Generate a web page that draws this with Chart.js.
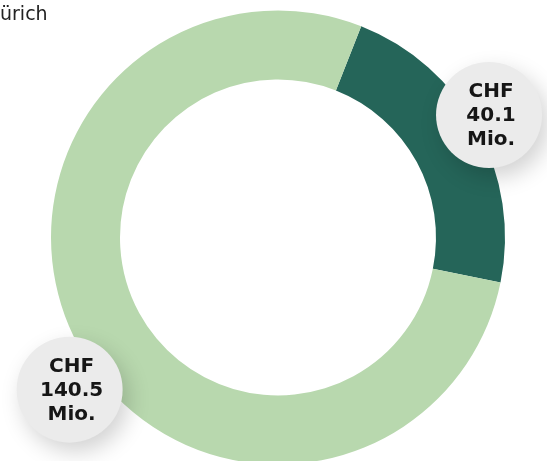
<!DOCTYPE html>
<html>
<head>
<meta charset="utf-8">
<script src="https://cdn.jsdelivr.net/npm/chart.js@4"></script>
<style>
	html, body { margin: 0; padding: 0; background: #fff; overflow: hidden; width: 547px; height: 461px; }
	#wrap { position: relative; width: 547px; height: 461px; overflow: hidden; }
	#title { position: absolute; left: -13px; top: 2px; font: 19px "DejaVu Sans", sans-serif; color: #222; white-space: nowrap; }
	canvas { position: absolute; left: 0; top: 0; }
</style>
</head>
<body>
<div id="wrap">
	<canvas id="myChart" width="547" height="470"></canvas>
	<div id="title">Zürich</div>
</div>
<script>
	// Data
	let categories = ["Segment A", "Segment B"];
	let values = [40.1, 140.5];
	let valueLabels = ["40.1", "140.5"];
	let colors = ["#256559", "#b8d8ae"];

	// labels in grey bubbles next to each slice
	const bubbleLabels = {
		id: 'bubbleLabels',
		afterDraw(chart, args, opts) {
			let ctx = chart.ctx;
			let meta = chart.getDatasetMeta(0);
			meta.data.forEach((arc, i) => {
				let p = arc.getProps(['x', 'y', 'startAngle', 'endAngle', 'outerRadius'], true);
				let a = (p.startAngle + p.endAngle) / 2 + opts.shift[i] * Math.PI / 180;
				let d = p.outerRadius + opts.dist[i];
				let cx = p.x + Math.cos(a) * d;
				let cy = p.y + Math.sin(a) * d;

				ctx.save();
				ctx.shadowColor = 'rgba(0,0,0,0.18)';
				ctx.shadowBlur = 22;
				ctx.shadowOffsetX = 6;
				ctx.shadowOffsetY = 9;
				ctx.fillStyle = '#ebebeb';
				ctx.beginPath();
				ctx.arc(cx, cy, opts.radius, 0, Math.PI * 2);
				ctx.fill();
				ctx.restore();

				ctx.save();
				ctx.fillStyle = '#161616';
				ctx.font = 'bold 20px "DejaVu Sans", sans-serif';
				ctx.textAlign = 'center';
				ctx.textBaseline = 'middle';
				let lines = ['CHF', valueLabels[i], 'Mio.'];
				lines.forEach((t, j) => {
					ctx.fillText(t, cx + 2, cy + 1 + (j - 1) * 24);
				});
				ctx.restore();
			});
		}
	};

	var ctx = document.getElementById('myChart').getContext('2d');

	var chart = new Chart(ctx, {
		type: 'doughnut',
		data: {
			labels: categories,
			datasets: [{
				data: values,
				backgroundColor: colors,
				borderWidth: 0
			}]
		},
		options: {
			responsive: false,
			animation: false,
			rotation: 21.5,
			cutout: '69.6%',
			layout: {
				padding: { left: 51, right: 42, top: 10, bottom: 5 }
			},
			plugins: {
				legend: { display: false },
				tooltip: { enabled: false },
				bubbleLabels: {
					shift: [-1.6, -7.6],
					dist: [17, 31],
					radius: 53
				}
			}
		},
		plugins: [bubbleLabels]
	});
</script>
</body>
</html>
